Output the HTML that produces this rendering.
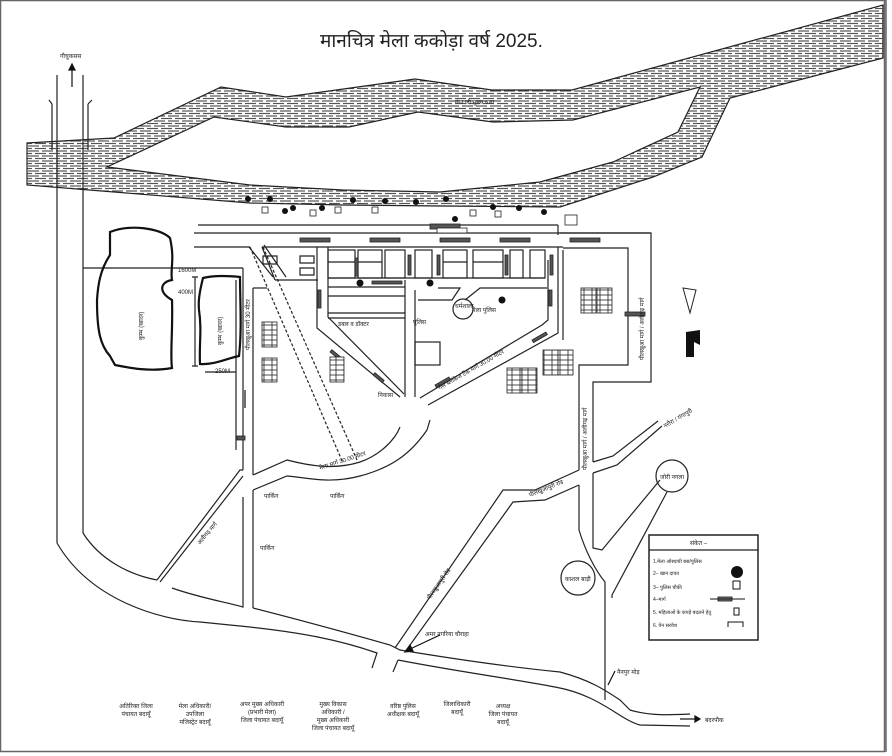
<!DOCTYPE html>
<html><head><meta charset="utf-8"><style>
html,body{margin:0;padding:0;background:#fff}
svg{display:block}
text{font-family:"Liberation Sans","Noto Sans CJK SC",sans-serif;fill:#222}
</style></head><body>
<svg width="892" height="756" viewBox="0 0 892 756" xmlns="http://www.w3.org/2000/svg">
<defs>
<pattern id="brick" width="14" height="5" patternUnits="userSpaceOnUse">
<rect width="14" height="5" fill="#fff"/>
<line x1="0" y1="1" x2="11" y2="1" stroke="#555" stroke-width="1.2"/>
<line x1="7" y1="3.5" x2="14" y2="3.5" stroke="#555" stroke-width="1.2"/>
<line x1="0" y1="3.5" x2="4" y2="3.5" stroke="#555" stroke-width="1.2"/>
</pattern>
<pattern id="tent" width="8" height="5" patternUnits="userSpaceOnUse">
<rect width="8" height="5" fill="#fff" stroke="#222" stroke-width="0.8"/>
</pattern>
</defs>
<rect x="0.5" y="0.5" width="884" height="751" fill="#fff" stroke="#666" stroke-width="1.5"/>
<line x1="886" y1="0" x2="886" y2="752" stroke="#666" stroke-width="1.5"/>

<text x="320" y="47" font-size="19" fill="#111">मानचित्र मेला ककोड़ा वर्ष 2025.</text>

<!-- river -->
<path fill="url(#brick)" fill-rule="evenodd" stroke="#222" stroke-width="1.2"
d="M27,143 L114,138 L221,87 L286,97 L415,79 L492,90 L572,90 L883,5 L883,58 L730,98 L702,157 L653,177 L560,207 L440,206 L343,205 L250,203 L27,185 Z
M107,167 L214,117 L286,127 L349,127 L418,112 L493,122 L573,120 L700,87 L678,132 L613,162 L540,182 L440,192 L343,190 L250,185 Z"/>
<text x="455" y="104" font-size="6">गंगा जी मुख्य धारा</text>

<!-- left highway -->
<g stroke="#222" stroke-width="1.2" fill="none">
<line x1="57" y1="75" x2="57" y2="543"/>
<line x1="83" y1="75" x2="83" y2="533"/>
<path d="M52,104 L49,100 M52,104 L52,150 M88,104 L92,100 M88,104 L88,150"/>
<path d="M57,543 C90,600 160,620 200,622 L240,626 C300,632 340,640 377,653 L372,668"/>
<path d="M83,533 C100,560 130,575 157,580"/>
<path d="M172,588 C200,598 230,603 243,607 L243,497"/>
<path d="M157,580 L240,470 L243,470"/>
<path d="M160,582 L243,476"/>
<path d="M253,490 L287,476 C310,478 330,484 360,476 C390,468 410,455 427,430 L430,420"/>
<path d="M253,475 L287,460 C310,466 335,470 360,462 C380,455 395,440 400,427"/>
<line x1="253" y1="490" x2="253" y2="608"/>
<line x1="253" y1="288" x2="253" y2="475"/>
<line x1="253" y1="288" x2="267" y2="288"/>
<line x1="83" y1="268" x2="243" y2="268"/>
<line x1="243" y1="268" x2="243" y2="470"/>
<line x1="236" y1="280" x2="236" y2="450"/>
<path d="M195,277 L195,366 M192,277 L198,277 M192,366 L198,366"/>
<line x1="205" y1="372" x2="236" y2="372"/>
<!-- bottom road continuing -->
<path d="M253,608 C300,620 330,628 390,645"/>
<path d="M398,660 L393,672"/>
<path d="M398,660 C460,672 520,680 555,687 C600,695 620,720 640,725 L690,726"/>
<path d="M390,645 L400,650 C460,660 520,668 560,672 C590,680 605,690 620,700 L630,710 C650,716 670,715 690,714"/>
<!-- diagonal pilkhua road -->
<path d="M395,648 L503,490 L535,490 L579,470"/>
<path d="M405,652 L513,502 L545,500 L579,485"/>
<!-- right vertical road -->
<path d="M579,470 L579,365 L628,365 L628,248 L563,248"/>
<path d="M593,462 L593,382 L651,382 L651,233 L560,233"/>
<path d="M579,485 L579,530 C585,550 595,570 605,582 L605,700"/>
<path d="M593,473 L593,548 L602,550 L660,480"/>
<path d="M612,598 L612,595 L667,492"/>
<path d="M593,462 L613,456 L658,421"/>
<path d="M593,473 L617,465 L662,426"/>
<circle cx="672" cy="476" r="16"/>
<circle cx="578" cy="578" r="17"/>
<!-- dashed road -->
<path d="M250,247 L343,463 M263,247 L357,460" stroke-dasharray="3,2"/>
<path d="M249,247 L273,277 M264,245 L286,277"/>
<!-- top lines -->
<line x1="198" y1="225" x2="558" y2="225"/>
<line x1="558" y1="225" x2="558" y2="235"/>
<line x1="194" y1="233" x2="650" y2="233"/>
<line x1="194" y1="247" x2="250" y2="247"/>
<line x1="262" y1="247" x2="563" y2="247"/>
<line x1="262" y1="247" x2="275" y2="280"/>
<line x1="275" y1="280" x2="318" y2="280"/>
<!-- fair complex -->
<path d="M317,247 L317,328 L400,397"/>
<path d="M328,247 L328,317 L404,394"/>
<path d="M405,280 L405,397"/>
<path d="M415,290 L415,397"/>
<path d="M420,398 L542,325 L548,320 L548,260"/>
<path d="M428,405 L558,333 L558,247"/>
<path d="M563,250 L563,340"/>
<line x1="328" y1="278" x2="545" y2="278"/>
<line x1="328" y1="287" x2="405" y2="287"/>
<line x1="328" y1="296" x2="405" y2="296"/>
<line x1="328" y1="313" x2="405" y2="313"/>
<line x1="328" y1="318" x2="405" y2="318"/>
<path d="M438,288 L460,288 L452,300 L418,300"/>
<path d="M465,300 L480,288 L547,288"/>
<rect x="415" y="342" width="25" height="23"/>
<rect x="328" y="250" width="27" height="28"/>
<rect x="358" y="250" width="24" height="28"/>
<rect x="385" y="250" width="20" height="28"/>
<rect x="415" y="250" width="17" height="28"/>
<rect x="443" y="250" width="24" height="28"/>
<rect x="473" y="250" width="30" height="28"/>
<rect x="510" y="250" width="13" height="28"/>
<rect x="530" y="250" width="15" height="28"/>
<line x1="328" y1="262" x2="355" y2="262"/>
<line x1="358" y1="262" x2="382" y2="262"/>
<line x1="443" y1="262" x2="467" y2="262"/>
<line x1="473" y1="262" x2="503" y2="262"/>
<path d="M263,256 h14 v8 h-14z M300,256 h14 v7 h-14z M300,268 h14 v7 h-14z"/>
<circle cx="463" cy="309" r="10"/>
</g>
<!-- dark rectangles / gates -->
<g fill="#555" stroke="#222" stroke-width="0.8">
<rect x="300" y="238" width="30" height="4"/><rect x="370" y="238" width="30" height="4"/>
<rect x="440" y="238" width="30" height="4"/><rect x="500" y="238" width="30" height="4"/>
<rect x="570" y="238" width="30" height="4"/><rect x="372" y="281" width="30" height="3"/>
<rect x="355" y="258" width="3" height="18"/><rect x="408" y="255" width="3" height="20"/>
<rect x="437" y="255" width="3" height="20"/><rect x="505" y="255" width="3" height="20"/>
<rect x="550" y="255" width="3" height="20"/><rect x="318" y="290" width="3" height="18"/>
<rect x="549" y="290" width="3" height="16"/><rect x="430" y="224" width="30" height="5"/>
<rect x="330" y="352" width="3" height="12" transform="rotate(-50 330 352)"/>
<rect x="435" y="385" width="16" height="3" transform="rotate(-30 435 385)"/>
<rect x="532" y="340" width="16" height="3" transform="rotate(-30 532 340)"/>
<rect x="373" y="375" width="3" height="12" transform="rotate(-50 373 375)"/>
<rect x="237" y="436" width="8" height="4"/><rect x="625" y="312" width="20" height="4"/>
</g>
<!-- black dots -->
<g fill="#111">
<circle cx="248" cy="199" r="3"/><circle cx="270" cy="199" r="3"/><circle cx="293" cy="208" r="3"/>
<circle cx="322" cy="208" r="3"/><circle cx="353" cy="200" r="3"/><circle cx="385" cy="201" r="3"/>
<circle cx="416" cy="202" r="3"/><circle cx="446" cy="199" r="3"/><circle cx="493" cy="207" r="3"/>
<circle cx="519" cy="208" r="3"/><circle cx="544" cy="212" r="3"/><circle cx="360" cy="283" r="3.5"/>
<circle cx="430" cy="283" r="3.5"/><circle cx="502" cy="300" r="3.5"/><circle cx="285" cy="211" r="3"/>
<circle cx="455" cy="219" r="3"/>
</g>
<g fill="#fff" stroke="#222" stroke-width="0.8">
<rect x="262" y="207" width="6" height="6"/><rect x="310" y="210" width="6" height="6"/>
<rect x="335" y="207" width="6" height="6"/><rect x="372" y="207" width="6" height="6"/>
<rect x="470" y="210" width="6" height="6"/><rect x="495" y="211" width="6" height="6"/>
<rect x="565" y="215" width="12" height="10"/><rect x="437" y="228" width="30" height="5"/>
</g>
<!-- tents -->
<g fill="url(#tent)" stroke="#222" stroke-width="0.8">
<rect x="262" y="322" width="15" height="25"/><rect x="262" y="358" width="15" height="24"/>
<rect x="330" y="357" width="14" height="25"/><rect x="543" y="350" width="15" height="25"/>
<rect x="558" y="350" width="15" height="25"/><rect x="507" y="368" width="15" height="25"/>
<rect x="522" y="368" width="15" height="25"/><rect x="581" y="288" width="15" height="25"/>
<rect x="597" y="288" width="15" height="25"/>
</g>
<!-- lakes -->
<g fill="none" stroke="#111" stroke-width="2.2">
<path d="M110,232 C130,224 160,228 170,238 C175,260 170,270 172,280 C160,282 158,292 172,300 C173,330 170,355 172,368 C150,372 130,368 115,365 L110,356 C100,345 97,330 97,300 C98,285 100,270 110,255 Z"/>
<path d="M203,278 C215,275 230,276 240,277 C240,300 242,330 239,356 C228,358 215,365 200,364 C199,345 202,330 199,310 C198,300 200,290 203,278 Z"/>
</g>
<!-- north -->
<path d="M683,288 L696,290 L690,313 Z" fill="#fff" stroke="#222"/>
<path d="M686,332 L700,330 L700,345 L694,342 L694,357 L686,357 Z" fill="#111"/>
<!-- legend -->
<rect x="649" y="535" width="109" height="105" fill="#fff" stroke="#222" stroke-width="1.5"/>
<line x1="649" y1="550" x2="758" y2="550" stroke="#222" stroke-width="1.2"/>
<circle cx="737" cy="572" r="6" fill="#111"/>
<rect x="733" y="581" width="7" height="8" fill="#fff" stroke="#111"/>
<rect x="718" y="597" width="14" height="4" fill="#777" stroke="#111" stroke-width="0.8"/>
<line x1="710" y1="599" x2="745" y2="599" stroke="#111"/>
<rect x="734" y="608" width="5" height="7" fill="#fff" stroke="#111"/>
<path d="M728,627 L728,622 L743,622 L743,627" fill="none" stroke="#111"/>
<g font-size="5">
<text x="690" y="545" font-size="6">संकेत –</text>
<text x="653" y="563">1.मेला ऑस्थायी बस/पुलिस</text>
<text x="653" y="575">2– खान दावत</text>
<text x="653" y="589">3– पुलिस चौकी</text>
<text x="653" y="601">4–मार्ग</text>
<text x="653" y="614">5. महिलाओं के कपड़े बदलने हेतु</text>
<text x="653" y="627">6. पेन सरवेश</text>
</g>
<!-- arrows -->
<g stroke="#111" stroke-width="1.2" fill="#111">
<line x1="72" y1="87" x2="72" y2="67"/><path d="M69,70 L72,64 L75,70 Z"/>
<line x1="440" y1="635" x2="408" y2="650"/><path d="M405,652 L410,645 L413,651 Z"/>
<line x1="615" y1="671" x2="608" y2="685"/>
<line x1="680" y1="719" x2="695" y2="719"/><path d="M695,716 L700,719 L695,722 Z"/>
<line x1="245" y1="408" x2="245" y2="390"/>
</g>
<!-- labels -->
<g font-size="6">
<text x="60" y="58">गौचुकसस</text>
<text x="178" y="272">1600M</text><text x="178" y="294">400M</text><text x="215" y="373">250M</text>
<text x="264" y="498">पार्किंग</text><text x="330" y="498">पार्किंग</text><text x="260" y="550">पार्किंग</text>
<text x="455" y="308">धर्मशाला</text><text x="472" y="312">मेला पुलिस</text>
<text x="378" y="397">निकास</text><text x="413" y="324">पुलिस</text>
<text x="425" y="636">अमर नगरिया चौराहा</text>
<text x="617" y="674">नैनपुर मोड़</text>
<text x="705" y="722">बदरपौक</text>
<text x="565" y="581">काशल बाड़ी</text>
<text x="660" y="479">जोरी नगला</text>
<text x="338" y="326">डबल व डॉक्टर</text>
</g>
<g font-size="6" text-anchor="middle">
<text x="136" y="708">अतिरिक्त जिला</text><text x="136" y="716">पंचायत बदायूँ</text>
<text x="195" y="708">मेला अधिकारी/</text><text x="195" y="716">उपजिला</text><text x="195" y="724">मजिस्ट्रेट बदायूँ</text>
<text x="262" y="706">अपर मुख्य अधिकारी</text><text x="262" y="714">(प्रभारी मेला)</text><text x="262" y="722">जिला पंचायत बदायूँ</text>
<text x="333" y="706">मुख्य विकास</text><text x="333" y="714">अधिकारी /</text><text x="333" y="722">मुख्य अधिकारी</text><text x="333" y="730">जिला पंचायत बदायूँ</text>
<text x="403" y="708">वरिष्ठ पुलिस</text><text x="403" y="716">अधीक्षक बदायूँ</text>
<text x="457" y="706">जिलाधिकारी</text><text x="457" y="714">बदायूँ</text>
<text x="503" y="708">अध्यक्ष</text><text x="503" y="716">जिला पंचायत</text><text x="503" y="724">बदायूँ</text>
</g>
<g font-size="6">
<text transform="translate(320,470) rotate(-18)">मेला मार्ग 30.00 मीटर</text>
<text transform="translate(440,390) rotate(-30)">गैस ब्लॉकेज टैंक मार्ग 30.00 मीटर</text>
<text transform="translate(430,600) rotate(-55)">पीलखुआपुरी रोड</text>
<text transform="translate(530,497) rotate(-22)">पीलखुआपुरी रोड</text>
<text transform="translate(200,545) rotate(-50)">अलीगढ़ मार्ग</text>
<text transform="translate(587,470) rotate(-90)">पीलखुआ मार्ग / अलीगढ़ मार्ग</text>
<text transform="translate(644,360) rotate(-90)">पीलखुआ मार्ग / अलीगढ़ मार्ग</text>
<text transform="translate(250,350) rotate(-90)">पीलखुआ मार्ग 30 मीटर</text>
<text transform="translate(665,428) rotate(-30)">नरौरा / गंगापुरी</text>
<text transform="translate(143,340) rotate(-90)">कुम्भ (खादर)</text>
<text transform="translate(222,345) rotate(-90)">कुम्भ (खादर)</text>
</g>
</svg>
</body></html>
